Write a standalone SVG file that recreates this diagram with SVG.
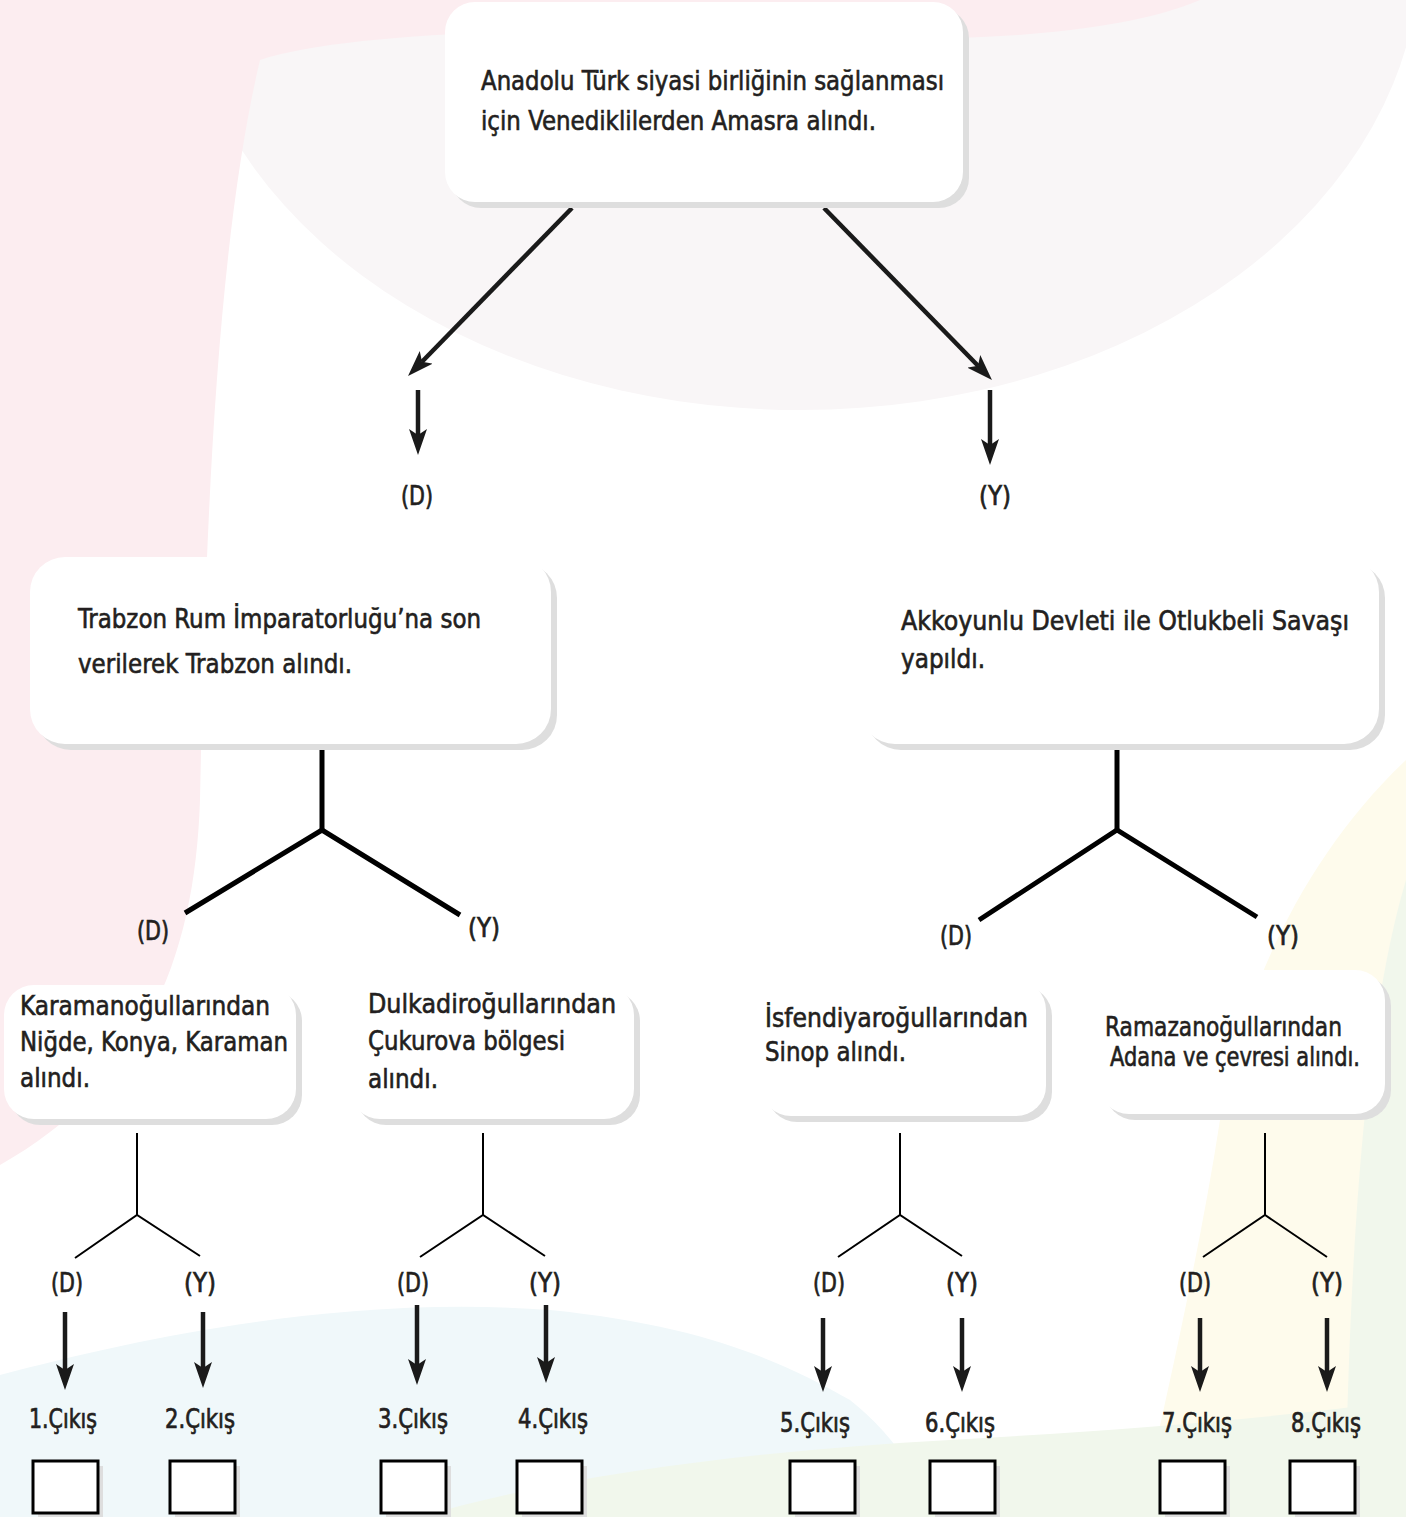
<svg xmlns="http://www.w3.org/2000/svg" width="1406" height="1517" viewBox="0 0 1406 1517">
<defs>
<style>
.t{font-family:"Liberation Sans Narrow","DejaVu Sans Condensed","Liberation Sans",sans-serif;font-size:27px;fill:#231f20;stroke:#231f20;stroke-width:0.6px;}
.lb{font-family:"Liberation Sans Narrow","DejaVu Sans Condensed","Liberation Sans",sans-serif;font-size:27px;fill:#231f20;stroke:#231f20;stroke-width:0.7px;text-anchor:middle;}
.sh{fill:#dedede;}
.bx{fill:#ffffff;}
.thick{stroke:#000;stroke-width:5;fill:none;}
.thin{stroke:#000;stroke-width:2;fill:none;}
.arr{stroke:#1a1a1a;stroke-width:4.5;fill:none;marker-end:url(#ah);}
.sq{fill:#fff;stroke:#000;stroke-width:3;}
</style>
<marker id="ah" markerUnits="userSpaceOnUse" viewBox="0 0 26 18" refX="6" refY="9" markerWidth="26" markerHeight="18" orient="auto">
<path d="M0,0 L26,9 L0,18 L6,9 Z" fill="#1a1a1a"/>
</marker>
</defs>
<g id="background">
<rect x="0" y="0" width="1406" height="1517" fill="#ffffff"/>
<ellipse cx="800" cy="-50" rx="620" ry="460" fill="#f9f6f7"/>
<path d="M0,0 H1200 C1120,35 950,45 800,35 C600,25 350,30 260,60 C215,250 205,550 200,800 C195,950 150,1080 0,1165 Z" fill="#fcedf0"/>
<path d="M1406,760 C1300,860 1240,1000 1220,1120 C1200,1250 1170,1380 1140,1517 L1406,1517 Z" fill="#fefbec"/>
<path d="M1406,880 C1370,1000 1350,1200 1345,1517 L1406,1517 Z" fill="#f1f7ec"/>
<path d="M0,1375 C150,1335 350,1295 550,1310 C700,1325 780,1360 850,1400 C900,1440 920,1480 930,1517 L0,1517 Z" fill="#f0f8fa"/>
<path d="M420,1517 C560,1475 760,1450 950,1440 C1120,1430 1260,1420 1406,1400 L1406,1517 Z" fill="#f1f7ec"/>
</g>
<g id="connectors">
<line class="arr" x1="572" y1="208" x2="422" y2="361.7"/>
<line class="arr" x1="824" y1="208" x2="978" y2="365.7"/>
<line class="arr" x1="418" y1="390" x2="418" y2="435"/>
<line class="arr" x1="990" y1="390" x2="990" y2="445"/>
<polyline class="thick" points="322,748 322,830"/>
<polyline class="thick" points="185,913 322,830 460,915"/>
<polyline class="thick" points="1117,748 1117,830"/>
<polyline class="thick" points="979,920 1117,830 1257,917"/>
<polyline class="thin" points="137,1133 137,1215"/>
<polyline class="thin" points="75,1258 137,1215 200,1256"/>
<polyline class="thin" points="483,1133 483,1215"/>
<polyline class="thin" points="420,1257 483,1215 545,1256"/>
<polyline class="thin" points="900,1133 900,1215"/>
<polyline class="thin" points="838,1257 900,1215 962,1256"/>
<polyline class="thin" points="1265,1133 1265,1215"/>
<polyline class="thin" points="1203,1257 1265,1215 1327,1257"/>
<line class="arr" x1="65" y1="1312" x2="65" y2="1370"/>
<line class="arr" x1="203" y1="1312" x2="203" y2="1368"/>
<line class="arr" x1="417" y1="1305" x2="417" y2="1365"/>
<line class="arr" x1="546" y1="1305" x2="546" y2="1363"/>
<line class="arr" x1="823" y1="1318" x2="823" y2="1372"/>
<line class="arr" x1="962" y1="1318" x2="962" y2="1372"/>
<line class="arr" x1="1200" y1="1318" x2="1200" y2="1372"/>
<line class="arr" x1="1327" y1="1318" x2="1327" y2="1372"/>
</g>
<g id="labels">
<text class="lb" x="417" y="505" textLength="32" lengthAdjust="spacingAndGlyphs">(D)</text>
<text class="lb" x="995" y="505" textLength="32" lengthAdjust="spacingAndGlyphs">(Y)</text>
<text class="lb" x="153" y="940" textLength="32" lengthAdjust="spacingAndGlyphs">(D)</text>
<text class="lb" x="484" y="937" textLength="32" lengthAdjust="spacingAndGlyphs">(Y)</text>
<text class="lb" x="956" y="945" textLength="32" lengthAdjust="spacingAndGlyphs">(D)</text>
<text class="lb" x="1283" y="945" textLength="32" lengthAdjust="spacingAndGlyphs">(Y)</text>
<text class="lb" x="67" y="1292" textLength="32" lengthAdjust="spacingAndGlyphs">(D)</text>
<text class="lb" x="200" y="1292" textLength="32" lengthAdjust="spacingAndGlyphs">(Y)</text>
<text class="lb" x="413" y="1292" textLength="32" lengthAdjust="spacingAndGlyphs">(D)</text>
<text class="lb" x="545" y="1292" textLength="32" lengthAdjust="spacingAndGlyphs">(Y)</text>
<text class="lb" x="829" y="1292" textLength="32" lengthAdjust="spacingAndGlyphs">(D)</text>
<text class="lb" x="962" y="1292" textLength="32" lengthAdjust="spacingAndGlyphs">(Y)</text>
<text class="lb" x="1195" y="1292" textLength="32" lengthAdjust="spacingAndGlyphs">(D)</text>
<text class="lb" x="1327" y="1292" textLength="32" lengthAdjust="spacingAndGlyphs">(Y)</text>
</g>
<g id="node-root">
<rect class="sh" x="451" y="8" width="518" height="200" rx="30"/>
<rect class="bx" x="445" y="2" width="518" height="200" rx="30"/>
<text class="t" x="481" y="90" textLength="463" lengthAdjust="spacingAndGlyphs">Anadolu Türk siyasi birliğinin sağlanması</text>
<text class="t" x="481" y="130" textLength="395" lengthAdjust="spacingAndGlyphs">için Venediklilerden Amasra alındı.</text>
</g>
<g id="node-trabzon">
<rect class="sh" x="36" y="563" width="521" height="187" rx="35"/>
<rect class="bx" x="30" y="557" width="521" height="187" rx="35"/>
<text class="t" x="78" y="628" textLength="403" lengthAdjust="spacingAndGlyphs">Trabzon Rum İmparatorluğu’na son</text>
<text class="t" x="78" y="673" textLength="274" lengthAdjust="spacingAndGlyphs">verilerek Trabzon alındı.</text>
</g>
<g id="node-otlukbeli">
<rect class="sh" x="866" y="563" width="519" height="187" rx="35"/>
<rect class="bx" x="860" y="557" width="519" height="187" rx="35"/>
<text class="t" x="901" y="630" textLength="448" lengthAdjust="spacingAndGlyphs">Akkoyunlu Devleti ile Otlukbeli Savaşı</text>
<text class="t" x="901" y="668" textLength="84" lengthAdjust="spacingAndGlyphs">yapıldı.</text>
</g>
<g id="node-karaman">
<rect class="sh" x="10" y="991" width="292" height="134" rx="30"/>
<rect class="bx" x="4" y="985" width="292" height="134" rx="30"/>
<text class="t" x="20" y="1015" textLength="250" lengthAdjust="spacingAndGlyphs">Karamanoğullarından</text>
<text class="t" x="20" y="1051" textLength="268" lengthAdjust="spacingAndGlyphs">Niğde, Konya, Karaman</text>
<text class="t" x="20" y="1087" textLength="70" lengthAdjust="spacingAndGlyphs">alındı.</text>
</g>
<g id="node-dulkadir">
<rect class="sh" x="356" y="991" width="284" height="134" rx="30"/>
<rect class="bx" x="350" y="985" width="284" height="134" rx="30"/>
<text class="t" x="368" y="1013" textLength="248" lengthAdjust="spacingAndGlyphs">Dulkadiroğullarından</text>
<text class="t" x="368" y="1050" textLength="197" lengthAdjust="spacingAndGlyphs">Çukurova bölgesi</text>
<text class="t" x="368" y="1088" textLength="70" lengthAdjust="spacingAndGlyphs">alındı.</text>
</g>
<g id="node-isfendiyar">
<rect class="sh" x="767" y="986" width="285" height="136" rx="30"/>
<rect class="bx" x="761" y="980" width="285" height="136" rx="30"/>
<text class="t" x="765" y="1027" textLength="263" lengthAdjust="spacingAndGlyphs">İsfendiyaroğullarından</text>
<text class="t" x="765" y="1061" textLength="141" lengthAdjust="spacingAndGlyphs">Sinop alındı.</text>
</g>
<g id="node-ramazan">
<rect class="sh" x="1105" y="976" width="286" height="144" rx="30"/>
<rect class="bx" x="1099" y="970" width="286" height="144" rx="30"/>
<text class="t" x="1105" y="1036" font-size="25" textLength="237" lengthAdjust="spacingAndGlyphs">Ramazanoğullarından</text>
<text class="t" x="1110" y="1066" font-size="25" textLength="250" lengthAdjust="spacingAndGlyphs">Adana ve çevresi alındı.</text>
</g>
<g id="outputs">
<text class="lb" x="63" y="1428" textLength="68" lengthAdjust="spacingAndGlyphs">1.Çıkış</text>
<text class="lb" x="200" y="1428" textLength="70" lengthAdjust="spacingAndGlyphs">2.Çıkış</text>
<text class="lb" x="413" y="1428" textLength="70" lengthAdjust="spacingAndGlyphs">3.Çıkış</text>
<text class="lb" x="553" y="1428" textLength="70" lengthAdjust="spacingAndGlyphs">4.Çıkış</text>
<text class="lb" x="815" y="1432" textLength="70" lengthAdjust="spacingAndGlyphs">5.Çıkış</text>
<text class="lb" x="960" y="1432" textLength="70" lengthAdjust="spacingAndGlyphs">6.Çıkış</text>
<text class="lb" x="1197" y="1432" textLength="70" lengthAdjust="spacingAndGlyphs">7.Çıkış</text>
<text class="lb" x="1326" y="1432" textLength="70" lengthAdjust="spacingAndGlyphs">8.Çıkış</text>
<g id="box1"><rect class="sh" x="38" y="1466" width="65" height="55"/><rect class="sq" x="33" y="1461" width="65" height="52"/></g>
<g id="box2"><rect class="sh" x="175" y="1466" width="65" height="55"/><rect class="sq" x="170" y="1461" width="65" height="52"/></g>
<g id="box3"><rect class="sh" x="386" y="1466" width="65" height="55"/><rect class="sq" x="381" y="1461" width="65" height="52"/></g>
<g id="box4"><rect class="sh" x="522" y="1466" width="65" height="55"/><rect class="sq" x="517" y="1461" width="65" height="52"/></g>
<g id="box5"><rect class="sh" x="795" y="1466" width="65" height="55"/><rect class="sq" x="790" y="1461" width="65" height="52"/></g>
<g id="box6"><rect class="sh" x="935" y="1466" width="65" height="55"/><rect class="sq" x="930" y="1461" width="65" height="52"/></g>
<g id="box7"><rect class="sh" x="1165" y="1466" width="65" height="55"/><rect class="sq" x="1160" y="1461" width="65" height="52"/></g>
<g id="box8"><rect class="sh" x="1295" y="1466" width="65" height="55"/><rect class="sq" x="1290" y="1461" width="65" height="52"/></g>
</g>
</svg>
